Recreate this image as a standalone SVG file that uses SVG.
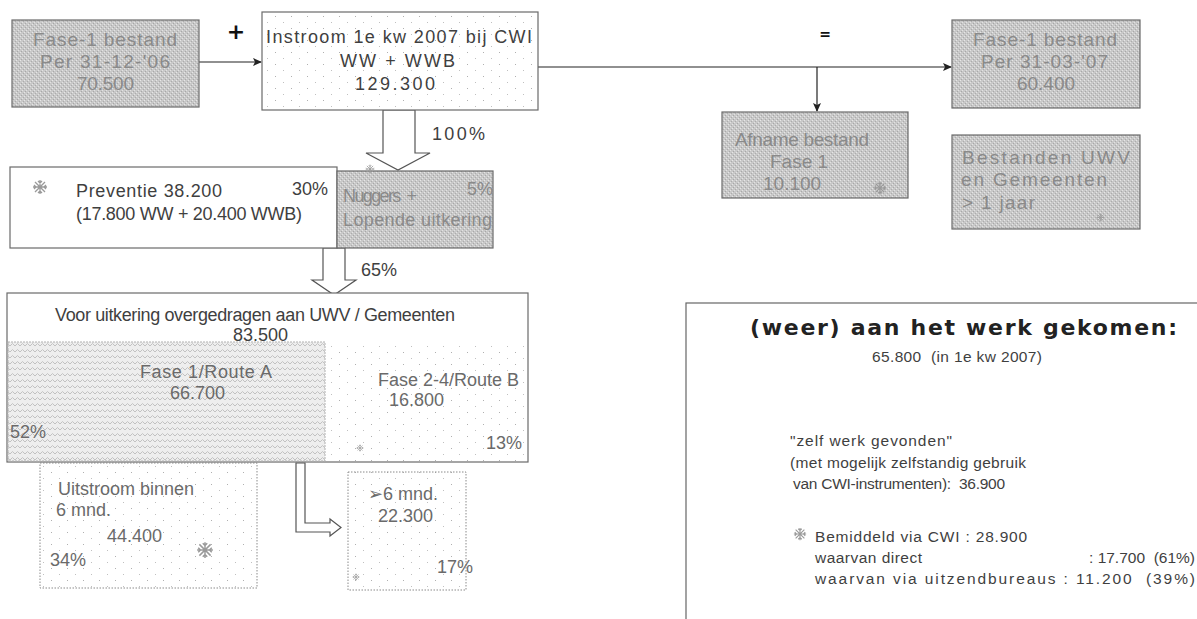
<svg xmlns="http://www.w3.org/2000/svg" width="1197" height="619" viewBox="0 0 1197 619">
<style>
.t{font-family:"Liberation Sans",Arial,"DejaVu Sans",sans-serif;font-size:18px;}
.g19{font-size:19px;}
.s{font-size:15.5px;}
.gt{fill:#8a8a8a;}
.dt{fill:#3f3f3f;}
.mt{fill:#6a6a6a;}
.box{stroke:#6a6a6a;stroke-width:1.2;}
.gray{fill:url(#grayTex);}
.dot{stroke:#8a8a8a;stroke-width:1;stroke-dasharray:1.5 1.5;fill:url(#dots);}
.blk{fill:#fff;stroke:#555;stroke-width:1.2;}
.con{stroke:#222;stroke-width:1.2;fill:none;}
.star{stroke:#9a9a9a;stroke-width:1.3;fill:none;}
</style>
<defs>
<pattern id="grayTex" width="4" height="4" patternUnits="userSpaceOnUse">
<rect width="4" height="4" fill="#c8c8c8"/>
<rect x="0" y="0" width="1" height="1" fill="#e6e6e6"/>
<rect x="2" y="2" width="1" height="1" fill="#e2e2e2"/>
<rect x="1" y="3" width="1" height="1" fill="#a8a8a8"/>
<rect x="3" y="1" width="1" height="1" fill="#acacac"/>
</pattern>
<pattern id="wave" width="10" height="6" patternUnits="userSpaceOnUse">
<rect width="10" height="6" fill="#eeeeee"/>
<path d="M0,4 L2.5,1.5 L5,4 L7.5,1.5 L10,4" stroke="#c2c2c2" stroke-width="1" fill="none"/>
</pattern>
<pattern id="dots" width="16" height="12" patternUnits="userSpaceOnUse">
<rect width="16" height="12" fill="#fff"/>
<rect x="3" y="4" width="1" height="1" fill="#b0b0b0"/>
<rect x="11" y="10" width="1" height="1" fill="#c0c0c0"/>
</pattern>
<marker id="ah" markerWidth="9" markerHeight="8" refX="8" refY="4" orient="auto" markerUnits="userSpaceOnUse">
<path d="M0,0 L9,4 L0,8 L2,4 Z" fill="#222"/>
</marker>
<symbol id="st" viewBox="-8 -8 16 16" overflow="visible">
<path d="M0,-7 V7 M-7,0 H7 M-5,-5 L5,5 M-5,5 L5,-5 M-2,-6 L0,-4 L2,-6 M-2,6 L0,4 L2,6 M-6,-2 L-4,0 L-6,2 M6,-2 L4,0 L6,2"/>
</symbol>
</defs>

<g id="connectors">
<line class="con" x1="199" y1="62" x2="261" y2="62" marker-end="url(#ah)"/>
<line class="con" x1="538" y1="67" x2="951" y2="67" marker-end="url(#ah)"/>
<line class="con" x1="817" y1="67" x2="817" y2="111" marker-end="url(#ah)"/>
<polygon class="blk" points="383,110 415,110 415,153 430,153 398,170 366,153 383,153"/>
<polygon class="blk" points="323,248 345,248 345,280 356,280 334,295 312,280 323,280"/>
<polygon class="blk" points="296,463 305,463 305,523 330,523 330,519 341,527.5 330,536 330,532 296,532"/>
<text class="t dt" x="432" y="140" textLength="53">100%</text>
<text class="t dt" x="361" y="276">65%</text>
<text x="236" y="39" text-anchor="middle" style="font-family:'DejaVu Sans',sans-serif;font-size:22px;font-weight:bold;fill:#111">+</text>
<text x="825" y="39" text-anchor="middle" style="font-family:'DejaVu Sans',sans-serif;font-size:14px;font-weight:bold;fill:#111">=</text>
</g>

<g id="fase1-start">
<rect class="box gray" x="12" y="20" width="187" height="87"/>
<text class="t g19 gt" x="33" y="46" textLength="144">Fase-1 bestand</text>
<text class="t g19 gt" x="40" y="68" textLength="130">Per 31-12-'06</text>
<text class="t g19 gt" x="77" y="90" textLength="57">70.500</text>
</g>

<g id="instroom">
<rect class="box" fill="url(#dots)" x="262" y="12" width="276" height="98"/>
<text class="t dt" x="266" y="43" textLength="266">Instroom 1e kw 2007 bij CWI</text>
<text class="t dt" x="340" y="67" textLength="115">WW + WWB</text>
<text class="t dt" x="355" y="90" textLength="80">129.300</text>
</g>

<g id="fase1-end">
<rect class="box gray" x="952" y="20" width="188" height="88"/>
<text class="t g19 gt" x="973" y="46" textLength="144">Fase-1 bestand</text>
<text class="t g19 gt" x="981" y="68" textLength="127">Per 31-03-'07</text>
<text class="t g19 gt" x="1017" y="90" textLength="58">60.400</text>
</g>

<g id="afname">
<rect class="box gray" x="722" y="112" width="186" height="86"/>
<text class="t g19 gt" x="735" y="146" textLength="134">Afname bestand</text>
<text class="t g19 gt" x="770" y="168">Fase 1</text>
<text class="t g19 gt" x="763" y="190">10.100</text>
<use href="#st" class="star" x="873" y="181" width="14" height="14"/>
</g>

<g id="bestanden">
<rect class="box gray" x="952" y="135" width="188" height="94"/>
<text class="t g19 gt" x="962" y="164" textLength="168">Bestanden UWV</text>
<text class="t g19 gt" x="961" y="186" textLength="146">en Gemeenten</text>
<text class="t g19 gt" x="962" y="209" textLength="73">&gt; 1 jaar</text>
<use href="#st" class="star" x="1096" y="213" width="9" height="9"/>
</g>

<g id="preventie">
<rect class="box" fill="#fff" x="10" y="167" width="327" height="81"/>
<use href="#st" class="star" x="32" y="179" width="16" height="16"/>
<text class="t dt" x="76" y="197" textLength="146">Preventie 38.200</text>
<text class="t dt" x="76" y="220" textLength="226">(17.800 WW + 20.400 WWB)</text>
<text class="t dt" x="292" y="195">30%</text>
</g>

<g id="nuggers">
<rect class="box gray" x="337" y="171" width="156" height="77"/>
<use href="#st" class="star" x="365" y="164" width="10" height="10"/>
<text class="t gt" x="343" y="202" textLength="74">Nuggers&#160;&#160;+</text>
<text class="t gt" x="467" y="195">5%</text>
<text class="t gt" x="343" y="226" textLength="149">Lopende uitkering</text>
</g>

<g id="overgedragen">
<rect class="box" fill="#fff" x="7" y="293" width="521" height="169"/>
<text class="t dt" x="55" y="321" textLength="400">Voor uitkering overgedragen aan UWV / Gemeenten</text>
<text class="t dt" x="233" y="341">83.500</text>
<rect x="8" y="342" width="317" height="119" fill="url(#wave)" stroke="#b0b0b0" stroke-width="1" stroke-dasharray="2 1"/>
<rect x="326" y="342" width="201" height="119" fill="url(#dots)"/>
<text class="t mt" x="140" y="378" textLength="132">Fase 1/Route A</text>
<text class="t mt" x="170" y="399">66.700</text>
<text class="t mt" x="10" y="438">52%</text>
<text class="t mt" x="378" y="386">Fase 2-4/Route B</text>
<text class="t mt" x="389" y="406">16.800</text>
<text class="t mt" x="486" y="449">13%</text>
<use href="#st" class="star" x="356" y="444" width="8" height="8"/>
</g>

<g id="uitstroom">
<rect class="dot" x="40" y="463" width="217" height="125"/>
<text class="t mt" x="58" y="495">Uitstroom binnen</text>
<text class="t mt" x="56" y="516">6 mnd.</text>
<text class="t mt" x="107" y="542">44.400</text>
<text class="t mt" x="50" y="566">34%</text>
<use href="#st" class="star" x="196" y="541" width="18" height="18"/>
</g>

<g id="langer">
<rect class="dot" x="348" y="472" width="118" height="118"/>
<text class="t mt" x="368" y="500">➢6 mnd.</text>
<text class="t mt" x="378" y="522">22.300</text>
<text class="t mt" x="437" y="573">17%</text>
<use href="#st" class="star" x="352" y="573" width="8" height="8"/>
</g>

<g id="werk">
<rect x="686" y="303" width="530" height="340" fill="#fff" stroke="#666" stroke-width="1.2"/>
<text x="750" y="335" textLength="427" style="font-family:'DejaVu Sans','Liberation Sans',sans-serif;font-size:22px;font-weight:bold;fill:#222">(weer) aan het werk gekomen:</text>
<text class="t s dt" x="872" y="362" textLength="170">65.800&#160;&#160;(in 1e kw 2007)</text>
<text class="t s dt" x="790" y="446" textLength="162">"zelf werk gevonden"</text>
<text class="t s dt" x="790" y="468" textLength="236">(met mogelijk zelfstandig gebruik</text>
<text class="t s dt" x="793" y="489" textLength="212">van CWI-instrumenten):&#160;&#160;36.900</text>
<use href="#st" class="star" x="793" y="527" width="14" height="14"/>
<text class="t s dt" x="815" y="542" style="letter-spacing:0.8px">Bemiddeld via CWI : 28.900</text>
<text class="t s dt" x="815" y="563" textLength="107">waarvan direct</text>
<text class="t s dt" x="1195" y="563" text-anchor="end">: 17.700&#160;&#160;(61%)</text>
<text class="t s dt" x="815" y="584" textLength="380">waarvan via uitzendbureaus : 11.200&#160;&#160;(39%)</text>
</g>
</svg>
